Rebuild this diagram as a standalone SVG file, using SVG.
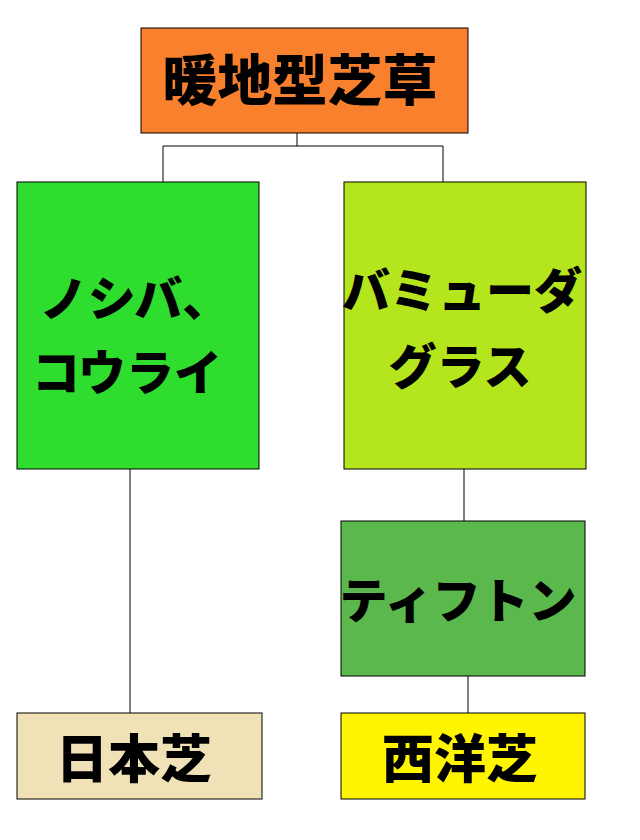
<svg xmlns="http://www.w3.org/2000/svg" width="640" height="840" viewBox="0 0 640 840">
<style>
rect{stroke:#000;stroke-width:1}
text{font-family:"Noto Sans CJK JP",sans-serif;font-weight:900;font-size:48px;text-anchor:middle;fill:#000}
.c{stroke:#000;stroke-width:1;fill:none}
</style>
<rect x="0" y="0" width="640" height="840" fill="#fff" style="stroke:none"/>
<g id="connectors">
<path class="c" d="M297 133V146M163 146H443M163 146V182M443 146V182M130 469V713M464 469V521M468 676V713"/>
</g>
<g id="n1"><rect x="141" y="28" width="327" height="105" fill="#F9812E"/><text x="300" y="100" style="font-size:55px">暖地型芝草</text></g>
<g id="n2"><rect x="17" y="182" width="242" height="287" fill="#2EDD2E"/><text x="135" y="316">ノシバ、</text><text x="127" y="390">コウライ</text></g>
<g id="n3"><rect x="344" y="182" width="242" height="287" fill="#B5E61D"/><text x="462" y="308">バミューダ</text><text x="460" y="384">グラス</text></g>
<g id="n4"><rect x="341" y="521" width="244" height="155" fill="#5BB84D"/><text x="458" y="618">ティフトン</text></g>
<g id="n5"><rect x="17" y="713" width="245" height="86" fill="#F0E2B6"/><text x="134" y="778" style="font-size:52px">日本芝</text></g>
<g id="n6"><rect x="341" y="713" width="244" height="86" fill="#FFF500"/><text x="460" y="778" style="font-size:52px">西洋芝</text></g>
</svg>
